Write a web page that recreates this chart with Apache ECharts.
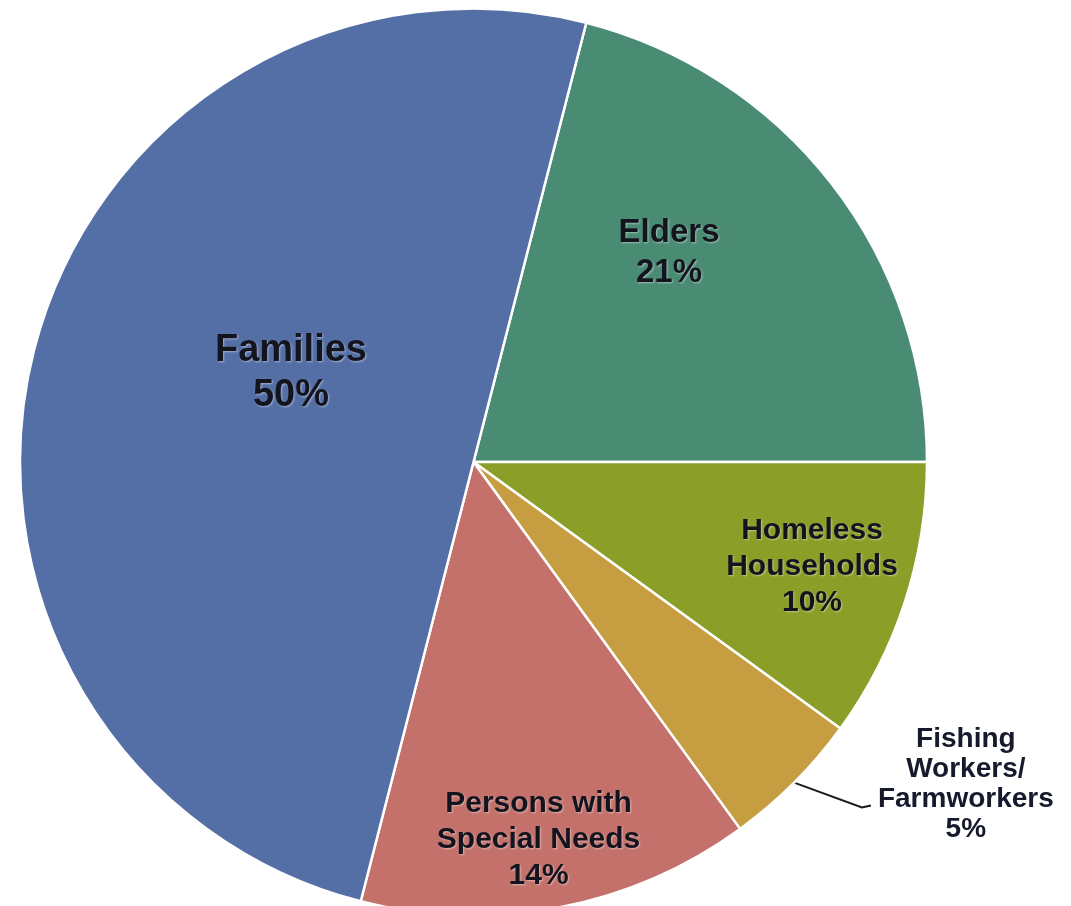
<!DOCTYPE html>
<html>
<head>
<meta charset="utf-8">
<title>Households by group</title>
<script src="https://cdn.jsdelivr.net/npm/echarts@6/dist/echarts.min.js"></script>
<style>
  html, body { margin: 0; padding: 0; background: #ffffff; }
  #chart { width: 1071px; height: 906px; }
</style>
</head>
<body>
<div id="chart"></div>
<script>
// Groups, drawn clockwise from just right of twelve o'clock
const categories = [
  'Elders',
  'Homeless\nHouseholds',
  'Fishing\nWorkers/\nFarmworkers',
  'Persons with\nSpecial Needs',
  'Families'
];
// Share of households, percent
const shares = [21, 10, 5, 14, 50];

// Slice fills
const sliceColors = ['#4A8B73', '#8B9E27', '#C79D42', '#C4716B', '#546FA6'];
// Label sizes and line heights
const labelFontSizes = [33, 30, 28, 30, 38];
const labelLineHeights = [40, 36, 30, 36, 45];
// Label nudges from the default spot, in pixels
const labelShifts = [[14, -68], [120, 34], [2, -23], [22, 152], [40, -32]];
// Which label sits outside the pie with a leader line
const outsideIndex = 2;

const chart = echarts.init(document.getElementById('chart'), null, { renderer: 'canvas' });

const data = categories.map((name, i) => {
  const item = {
    name: name,
    value: shares[i],
    itemStyle: { color: sliceColors[i] },
    label: { fontSize: labelFontSizes[i], lineHeight: labelLineHeights[i] }
  };
  if (i === outsideIndex) {
    item.label.position = 'outside';
    item.label.distanceToLabelLine = 5;
    item.label.textShadowColor = 'transparent';
    item.label.color = '#161a2c';
    item.labelLine = {
      show: true,
      length: 35,
      length2: 52,
      lineStyle: { color: '#1a1a1a', width: 2 }
    };
  }
  return item;
});

chart.setOption({
  backgroundColor: '#ffffff',
  animation: false,
  series: [{
    type: 'pie',
    center: [473.5, 462],
    radius: 453.5,
    startAngle: 75.6,
    clockwise: true,
    avoidLabelOverlap: false,
    silent: true,
    itemStyle: { borderColor: '#ffffff', borderWidth: 2.5 },
    label: {
      show: true,
      position: 'inside',
      formatter: '{b}\n{c}%',
      fontFamily: '"Liberation Sans", Arial, sans-serif',
      fontWeight: 'bold',
      color: '#14141e',
      textShadowColor: 'rgba(255,255,255,0.45)',
      textShadowBlur: 2,
      textShadowOffsetX: 1,
      textShadowOffsetY: 1
    },
    labelLine: { show: false },
    emphasis: { disabled: true },
    labelLayout: function (params) {
      const r = params.labelRect;
      const s = labelShifts[params.dataIndex];
      const out = {
        x: r.x + r.width / 2 + s[0],
        y: r.y + r.height / 2 + s[1],
        align: 'center',
        verticalAlign: 'middle'
      };
      const p = params.labelLinePoints;
      if (params.dataIndex === outsideIndex && p && p.length === 3) {
        // straight run from the slice edge, with a short tail into the text
        out.labelLinePoints = [p[0], [p[2][0] - 9, p[2][1]], [p[2][0], p[2][1] - 2]];
      }
      return out;
    },
    data: data
  }]
});
</script>
</body>
</html>
